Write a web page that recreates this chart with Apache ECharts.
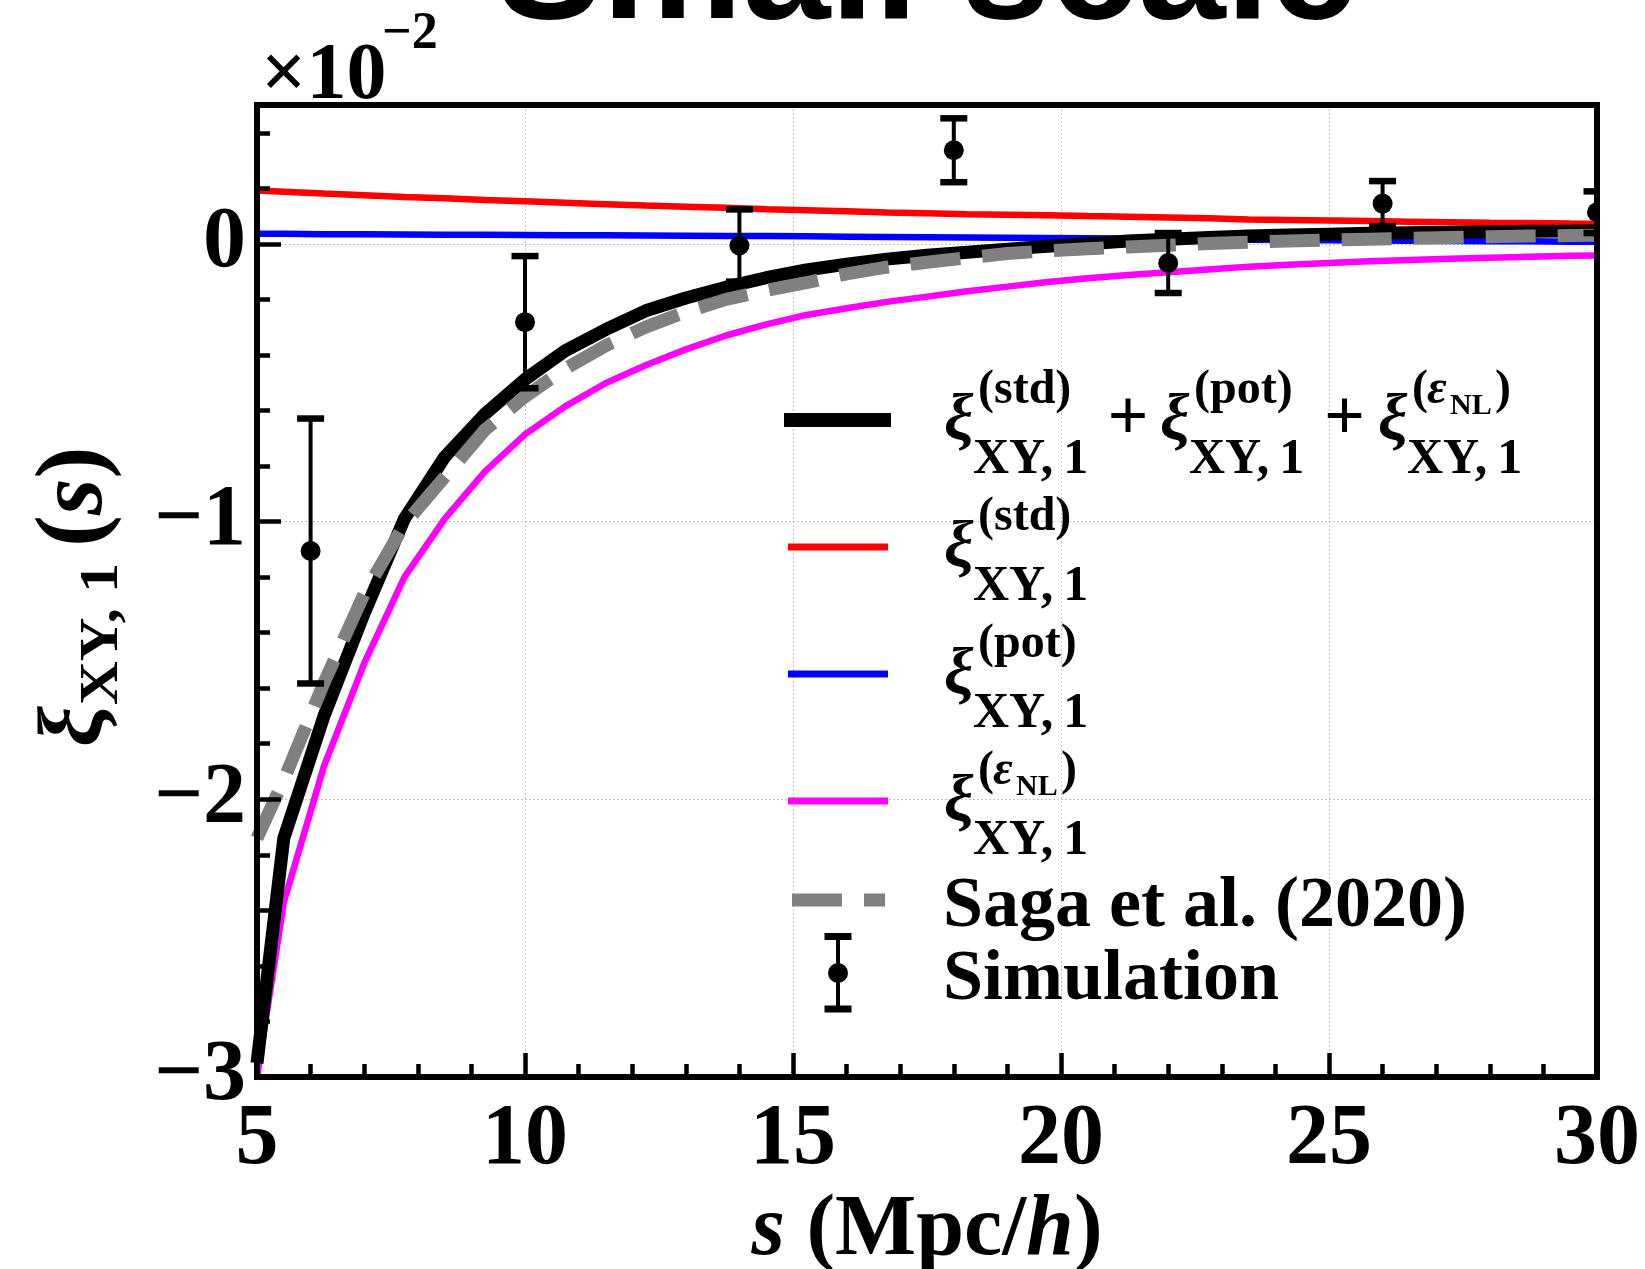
<!DOCTYPE html>
<html>
<head>
<meta charset="utf-8">
<title>Small scale</title>
<script src="https://cdn.jsdelivr.net/npm/echarts@6.0.0/dist/echarts.min.js"></script>
<style>
html,body{margin:0;padding:0;background:#ffffff;}
#chart{width:1645px;height:1269px;}
</style>
</head>
<body>
<div id="chart"></div>
<script>
// ---------- data (y values in units of 10^-2) ----------
const sTheory = [5, 5.5, 6.25, 7, 7.75, 8.5, 9.25, 10, 10.75, 11.5, 12.25, 13, 13.75, 14.5, 15.25, 16, 16.75, 17.5, 18.25, 19, 19.75, 20.5, 21.25, 22, 22.75, 23.5, 24.25, 25, 25.75, 26.5, 27.25, 28, 28.75, 29.5, 30];
const xiTotal = [-2.95, -2.14, -1.70, -1.33, -0.99, -0.768, -0.613, -0.488, -0.385, -0.309, -0.241, -0.195, -0.156, -0.122, -0.094, -0.073, -0.055, -0.041, -0.030, -0.019, -0.009, 0.000, 0.010, 0.017, 0.023, 0.028, 0.032, 0.035, 0.038, 0.040, 0.042, 0.044, 0.045, 0.046, 0.047];
const xiStd = [0.192, 0.188, 0.181, 0.175, 0.169, 0.164, 0.158, 0.153, 0.148, 0.143, 0.138, 0.134, 0.130, 0.125, 0.121, 0.117, 0.113, 0.110, 0.107, 0.105, 0.103, 0.100, 0.098, 0.095, 0.092, 0.088, 0.086, 0.084, 0.082, 0.080, 0.078, 0.076, 0.075, 0.073, 0.072];
const xiPot = [0.036, 0.036, 0.035, 0.035, 0.034, 0.033, 0.033, 0.032, 0.031, 0.031, 0.030, 0.029, 0.028, 0.028, 0.027, 0.026, 0.025, 0.024, 0.023, 0.022, 0.021, 0.020, 0.019, 0.018, 0.016, 0.015, 0.014, 0.013, 0.012, 0.011, 0.010, 0.009, 0.009, 0.008, 0.008];
const xiEpsNL = [-3.0, -2.37, -1.88, -1.51, -1.20, -0.99, -0.82, -0.686, -0.585, -0.502, -0.437, -0.380, -0.330, -0.290, -0.256, -0.232, -0.209, -0.190, -0.171, -0.154, -0.137, -0.124, -0.112, -0.102, -0.092, -0.082, -0.075, -0.069, -0.063, -0.058, -0.054, -0.050, -0.046, -0.043, -0.042];
const xiSaga2020 = [-2.14, -1.93, -1.58, -1.26, -1.01, -0.84, -0.67, -0.55, -0.45, -0.367, -0.300, -0.245, -0.200, -0.168, -0.140, -0.108, -0.084, -0.066, -0.050, -0.035, -0.025, -0.018, -0.011, -0.005, 0.001, 0.006, 0.010, 0.014, 0.017, 0.020, 0.023, 0.026, 0.028, 0.030, 0.031];
const sSim = [6, 10, 14, 18, 22, 26, 30];
const xiSim = [-1.106, -0.282, -0.006, 0.337, -0.069, 0.145, 0.114];
const xiSimErr = [0.477, 0.238, 0.130, 0.115, 0.108, 0.081, 0.075];
const xRange = [5, 30];
const yRange = [-3, 0.5];
const titleText = 'Small scale';
const legendNames = ['total', 'std', 'pot', 'NL', 'Saga et al. (2020)', 'Simulation'];

// ---------- helpers ----------
const SERIF = '"Liberation Serif","Times New Roman",serif';
const SANS = '"Liberation Sans",Arial,sans-serif';
const K_SERIF = 0.25, K_SANS = 0.30;
function T(x, base, text, size, o) {
  o = o || {};
  const fam = o.family || SERIF;
  const k = fam === SANS ? K_SANS : K_SERIF;
  const el = {type: 'text', x: x, y: base - k * size, silent: true, z: 10,
    style: {text: text, fontFamily: fam, fontSize: size, fontWeight: o.weight || 'bold',
      fontStyle: o.italic ? 'italic' : 'normal', fill: '#000', align: o.align || 'left', verticalAlign: 'middle'}};
  if (o.scaleX) { el.scaleX = o.scaleX; el.originX = 0; el.originY = 0; }
  return el;
}
function L(x1, x2, y1, y2, color, w, dash) {
  const st = {stroke: color, lineWidth: w};
  if (dash) st.lineDash = dash;
  return {type: 'line', silent: true, z: 10, shape: {x1: x1, y1: y1, x2: x2, y2: y2}, style: st};
}
function pairs(xs, ys) { return xs.map((x, i) => [x, ys[i]]); }
function xiTerm(x, Ly, sup) {
  const els = [T(x, Ly + 18, 'ξ', 66, {italic: true}), T(x + 29, Ly + 53, 'XY,\u20091', 50)];
  if (sup === 'NL') {
    els.push(T(x + 34, Ly - 17, '(', 48), T(x + 49, Ly - 17, 'ε', 48, {italic: true}),
             T(x + 72, Ly - 6, 'NL', 30), T(x + 117, Ly - 17, ')', 48));
  } else {
    els.push(T(x + 34, Ly - 17, '(' + sup + ')', 48));
  }
  return els;
}

// ---------- graphic (title, exponent, y-name, legend) ----------
const rowY = [420, 547, 674, 801];
let g = [];
g.push(T(927, 22, titleText, 158, {align: 'center', family: SANS}));
g.push(T(261, 97, '×10', 80));
g.push(T(382, 48, '\u22122', 52));
g.push({type: 'group', x: 100, y: 745, rotation: Math.PI / 2, silent: true, children: [
  T(-2, 0, 'ξ', 92, {italic: true}),
  T(40, 17, 'XY, 1', 55, {scaleX: 1.1}),
  {type: 'text', x: 198, y: -K_SERIF * 94, silent: true,
   style: {text: '{a|(}{b|s}{a|)}', align: 'left', verticalAlign: 'middle',
     rich: {a: {fontFamily: SERIF, fontSize: 96, fontWeight: 'bold', color: '#000'},
            b: {fontFamily: SERIF, fontSize: 94, fontWeight: 'bold', fontStyle: 'italic', color: '#000'}}}}
]});
// legend icons
g.push(L(784, 891, rowY[0], rowY[0], '#000000', 14));
g.push(L(788, 888, rowY[1], rowY[1], '#ff0000', 7));
g.push(L(788, 888, rowY[2], rowY[2], '#0000ff', 7));
g.push(L(788, 888, rowY[3], rowY[3], '#ff00ff', 7));
g.push(L(792, 885, 900, 900, '#808080', 13, [50, 22]));
g.push(L(838, 838, 936.5, 1009, '#000', 4));
g.push(L(824.5, 851.5, 936.5, 936.5, '#000', 7));
g.push(L(824.5, 851.5, 1009, 1009, '#000', 7));
g.push({type: 'circle', silent: true, z: 10, shape: {cx: 838, cy: 973, r: 10}, style: {fill: '#000'}});
// legend text
g = g.concat(xiTerm(944, rowY[0], 'std'));
g.push(T(1128, rowY[0] + 18, '+', 72, {align: 'center'}));
g = g.concat(xiTerm(1160, rowY[0], 'pot'));
g.push(T(1344.5, rowY[0] + 18, '+', 72, {align: 'center'}));
g = g.concat(xiTerm(1378, rowY[0], 'NL'));
g = g.concat(xiTerm(944, rowY[1], 'std'));
g = g.concat(xiTerm(944, rowY[2], 'pot'));
g = g.concat(xiTerm(944, rowY[3], 'NL'));
g.push(T(943, 925, legendNames[4], 72));
g.push(T(943, 998, legendNames[5], 72));

// ---------- chart ----------
const GRID = {left: 257, right: 48, top: 105, bottom: 192, containLabel: false, outerBoundsMode: 'none'};
const tickStyle = {color: '#000', width: 4.5};
const gridLine = {show: true, lineStyle: {color: '#c4c4c4', width: 1, type: [2, 2]}};
const labelFont = {fontFamily: SERIF, fontSize: 86, fontWeight: 'bold', color: '#000'};
const noLine = {show: false, onZero: false};

const option = {
  animation: false,
  backgroundColor: '#ffffff',
  grid: [
    Object.assign({show: true, borderColor: '#000', borderWidth: 6, backgroundColor: 'transparent', z: 4}, GRID),
    Object.assign({show: false}, GRID),
    Object.assign({show: false}, GRID)
  ],
  xAxis: [
    {gridIndex: 0, type: 'value', position: 'bottom', min: xRange[0], max: xRange[1], interval: 5, z: 5,
     axisLine: noLine,
     axisTick: {show: true, inside: true, length: 24, lineStyle: tickStyle},
     minorTick: {show: true, splitNumber: 5, length: 13, lineStyle: tickStyle},
     splitLine: {show: false},
     axisLabel: Object.assign({show: true, margin: 21, interval: 0}, labelFont),
     name: '{i|s} (Mpc/{i|h})', nameLocation: 'middle', nameGap: 103,
     nameTextStyle: Object.assign({rich: {i: Object.assign({fontStyle: 'italic'}, labelFont)}}, labelFont)},
    {gridIndex: 1, type: 'value', position: 'bottom', min: xRange[0], max: xRange[1], interval: 5, z: 0,
     axisLine: noLine, axisTick: {show: false}, axisLabel: {show: false}, splitLine: gridLine},
    {gridIndex: 2, type: 'value', position: 'bottom', min: xRange[0], max: xRange[1], show: false, axisLine: noLine}
  ],
  yAxis: [
    {gridIndex: 0, type: 'value', position: 'left', min: yRange[0], max: yRange[1], interval: 1, z: 5,
     axisLine: noLine,
     axisTick: {show: true, inside: true, length: 24, lineStyle: tickStyle},
     splitLine: {show: false},
     axisLabel: Object.assign({show: true, margin: 11, interval: 0,
       formatter: function (v) {
         if (Math.abs(v - Math.round(v)) > 1e-9) return '';
         return v < 0 ? '\u2212' + Math.abs(v) : String(Math.round(v));
       }}, labelFont)},
    {gridIndex: 1, type: 'value', position: 'left', min: yRange[0], max: yRange[1], interval: 1, z: 0,
     axisLine: noLine, axisTick: {show: false}, axisLabel: {show: false}, splitLine: gridLine},
    {gridIndex: 2, type: 'value', position: 'left', min: yRange[0], max: yRange[1], interval: 0.2, z: 5,
     axisLine: noLine, axisLabel: {show: false}, splitLine: {show: false},
     axisTick: {show: true, inside: true, length: 13, lineStyle: tickStyle}}
  ],
  series: [
    {type: 'line', name: legendNames[1], data: pairs(sTheory, xiStd), symbol: 'none', clip: true, z: 2,
     lineStyle: {color: '#ff0000', width: 6.5}, emphasis: {disabled: true}},
    {type: 'line', name: legendNames[2], data: pairs(sTheory, xiPot), symbol: 'none', clip: true, z: 2,
     lineStyle: {color: '#0000ff', width: 6.5}, emphasis: {disabled: true}},
    {type: 'line', name: legendNames[3], data: pairs(sTheory, xiEpsNL), symbol: 'none', clip: true, z: 2,
     lineStyle: {color: '#ff00ff', width: 6.5}, emphasis: {disabled: true}},
    {type: 'line', name: legendNames[0], data: pairs(sTheory, xiTotal), symbol: 'none', clip: true, z: 2,
     lineStyle: {color: '#000000', width: 13}, emphasis: {disabled: true}},
    {type: 'line', name: legendNames[4], data: pairs(sTheory, xiSaga2020), symbol: 'none', clip: true, z: 2,
     lineStyle: {color: '#808080', width: 13, type: [50, 22], cap: 'butt'}, emphasis: {disabled: true}},
    {type: 'custom', name: legendNames[5], clip: true, z: 3,
     data: sSim.map((s, i) => [s, xiSim[i], xiSimErr[i]]),
     encode: {x: 0, y: 1},
     renderItem: function (params, api) {
       const x = api.value(0), y = api.value(1), e = api.value(2);
       const pT = api.coord([x, y + e]), pB = api.coord([x, y - e]), pC = api.coord([x, y]);
       const hw = 13.5;
       return {type: 'group', children: [
         {type: 'line', shape: {x1: pT[0], y1: pT[1], x2: pB[0], y2: pB[1]}, style: {stroke: '#000', lineWidth: 4}},
         {type: 'line', shape: {x1: pT[0] - hw, y1: pT[1], x2: pT[0] + hw, y2: pT[1]}, style: {stroke: '#000', lineWidth: 6.5}},
         {type: 'line', shape: {x1: pB[0] - hw, y1: pB[1], x2: pB[0] + hw, y2: pB[1]}, style: {stroke: '#000', lineWidth: 6.5}},
         {type: 'circle', shape: {cx: pC[0], cy: pC[1], r: 10}, style: {fill: '#000'}}
       ]};
     }}
  ],
  graphic: g
};

const chart = echarts.init(document.getElementById('chart'), null, {renderer: 'canvas', width: 1645, height: 1269});
chart.setOption(option);
</script>
</body>
</html>
